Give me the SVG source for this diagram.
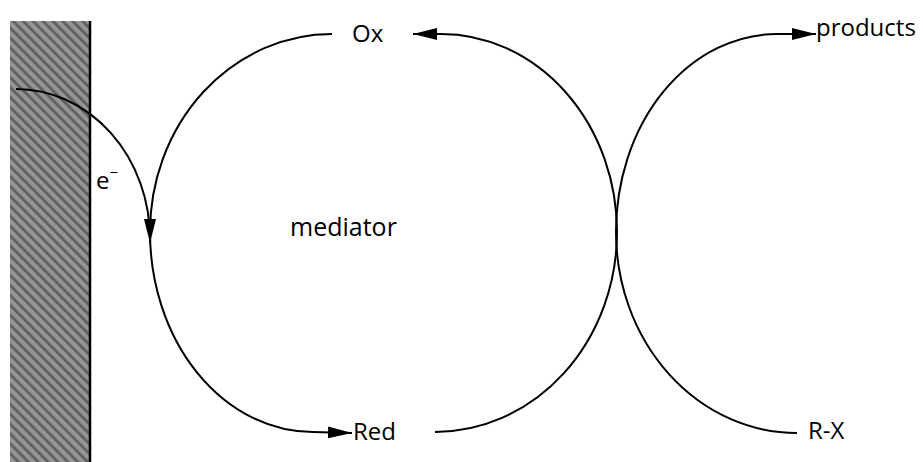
<svg xmlns="http://www.w3.org/2000/svg" width="923" height="462" viewBox="0 0 923 462">
<style>
.t{font-family:"Open Sans","Liberation Sans",sans-serif;font-size:24px;fill:#000}
.c{fill:none;stroke:#000;stroke-width:2}
</style>
<defs>
<pattern id="hatch" patternUnits="userSpaceOnUse" width="7" height="7" patternTransform="rotate(-45)">
<rect width="7" height="7" fill="#959595"/>
<rect width="2.8" height="7" fill="#606060"/>
</pattern>
<marker id="ah" markerUnits="userSpaceOnUse" markerWidth="24" markerHeight="13" refX="22" refY="5.5" orient="auto" viewBox="0 0 22 11">
<path d="M0,0 L22,5.5 L0,11 z" fill="#000"/>
</marker>
</defs>
<g id="electrode">
<rect x="10" y="21" width="80" height="441" fill="url(#hatch)"/>
<line x1="90" y1="21" x2="90" y2="462" stroke="#000" stroke-width="2.5"/>
</g>
<g id="connectors">
<path class="c" d="M16,89 A134,150 0 0 1 150,239 L150,243" marker-end="url(#ah)"/>
<path class="c" d="M332,34 A182,198 0 0 0 150,232 A163,200 0 0 0 313,432 L352,433" marker-end="url(#ah)"/>
<path class="c" d="M435,432 A182,200 0 0 0 617,232 A176,198 0 0 0 441,34 L413,34" marker-end="url(#ah)"/>
<path class="c" d="M797,433 A181,201 0 0 1 616,232 A161,198 0 0 1 777,34 L816,34" marker-end="url(#ah)"/>
</g>
<g id="n-ox"><text class="t" x="352" y="42">Ox</text></g>
<g id="n-red"><text class="t" x="353" y="440">Red</text></g>
<g id="n-mediator"><text class="t" x="290" y="236" style="font-size:25px">mediator</text></g>
<g id="n-products"><text class="t" x="816" y="36">products</text></g>
<g id="n-rx"><text class="t" x="808" y="439">R-X</text></g>
<g id="n-e"><text class="t" x="96" y="189">e<tspan dy="-11" font-size="15">−</tspan></text></g>
</svg>
